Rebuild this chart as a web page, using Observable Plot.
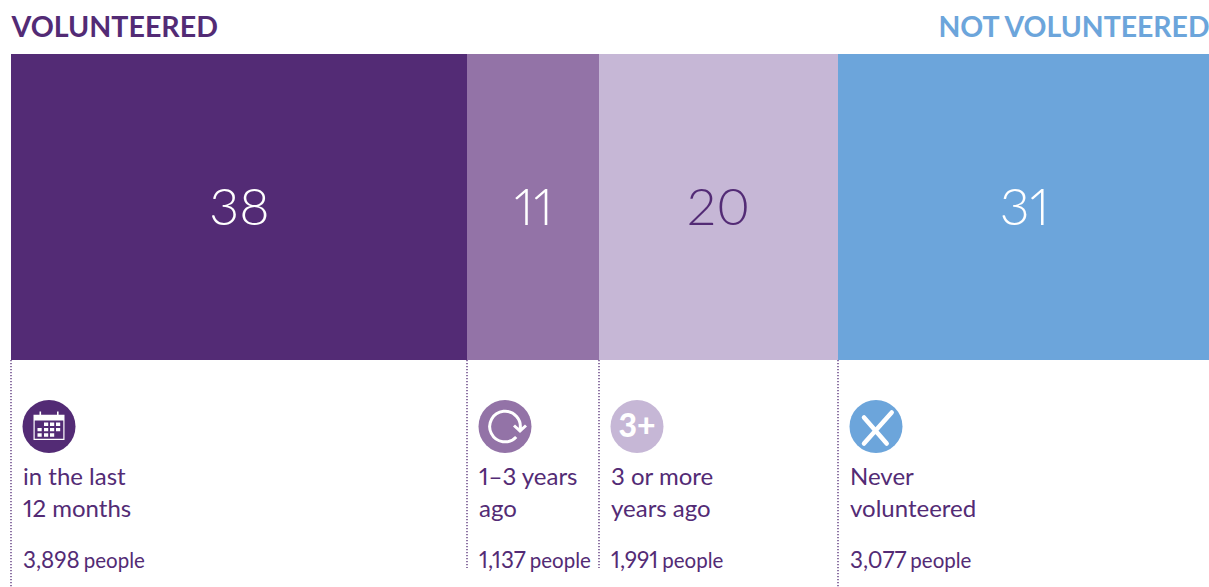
<!DOCTYPE html>
<html>
<head>
<meta charset="utf-8">
<style>html,body{margin:0;padding:0;background:#fff}svg{display:block}</style>
<script src="https://cdn.jsdelivr.net/npm/d3@7"></script>
<script src="https://cdn.jsdelivr.net/npm/@observablehq/plot@0.6"></script>
</head>
<body>
<div id="chart"></div>
<script>
const categories = ["in the last\n12 months", "1–3 years\nago", "3 or more\nyears ago", "Never\nvolunteered"];
const shares = [38, 11, 20, 31];
const counts = ["3,898", "1,137", "1,991", "3,077"];
const headers = ["VOLUNTEERED", "NOT VOLUNTEERED"];
const barColors = ["#532b75", "#9373a7", "#c6b7d6", "#6ca5db"];
const valueColors = ["#ffffff", "#ffffff", "#532b75", "#ffffff"];
const ruleEnds = [587, 568, 568, 587];

const PURPLE = "#532b75", BLUE = "#6ca5db", FONT = "Lato, sans-serif", NUMS = "proportional-nums";
const starts = [0, ...d3.cumsum(shares)].slice(0, 4);
const rows = categories.map((label, i) => ({
  label, share: shares[i], count: counts[i], x1: starts[i], x2: starts[i] + shares[i],
  mid: starts[i] + shares[i] / 2, color: barColors[i], valueColor: valueColors[i], ruleEnd: ruleEnds[i]
}));

const measure = (t, size) => {
  const s = document.createElement("span");
  s.textContent = t;
  s.style.cssText = `font:400 ${size}px Lato;font-variant-numeric:${NUMS};position:absolute;visibility:hidden;white-space:pre`;
  document.body.append(s);
  const w = s.getBoundingClientRect().width;
  s.remove();
  return w;
};

const unit = (size) => Math.sqrt(size / Math.PI) / 26.5;
const rectCW = (c, x0, y0, x1, y1) => { c.moveTo(x0, y0); c.lineTo(x1, y0); c.lineTo(x1, y1); c.lineTo(x0, y1); c.closePath(); };
const rectCCW = (c, x0, y0, x1, y1) => { c.moveTo(x0, y0); c.lineTo(x0, y1); c.lineTo(x1, y1); c.lineTo(x1, y0); c.closePath(); };
const calendarSymbol = { draw(c, size) {
  const k = unit(size);
  rectCW(c, -15.5 * k, -11.7 * k, 15.5 * k, 13.4 * k);
  rectCCW(c, -14.3 * k, -10.5 * k, 14.3 * k, 12.2 * k);
  rectCW(c, -14.3 * k, -10.5 * k, 14.3 * k, -6 * k);
  for (const rx of [-9.5, 8]) rectCW(c, rx * k, -15 * k, (rx + 1.6) * k, -8 * k);
  const cols = [-11.5, -5, 1, 7];
  [[1, 2, 3], [0, 1, 2, 3], [0, 1, 2]].forEach((r, j) => r.forEach((n) => {
    const y = (-4 + j * 5.4) * k;
    rectCW(c, cols[n] * k, y, (cols[n] + 4.2) * k, y + 3.4 * k);
  }));
} };
const refreshSymbol = { draw(c, size) {
  const k = unit(size), R = 15.3 * k;
  c.moveTo(R * Math.cos(0.75), R * Math.sin(0.75));
  c.arc(0, 0, R, 0.75, Math.PI * 2 + 0.25);
  c.moveTo(9 * k, -1 * k); c.lineTo(15 * k, 4.5 * k); c.lineTo(21 * k, -1 * k);
} };
const crossSymbol = { draw(c, size) {
  const k = unit(size);
  c.moveTo(-12 * k, -9 * k); c.lineTo(10.7 * k, 17 * k);
  c.moveTo(15.7 * k, -14 * k); c.lineTo(-12 * k, 17 * k);
} };

const iconDx = 37.5, iconY = 426, labelDx = 11.5;

const chart = Plot.plot({
  width: 1209, height: 587,
  marginTop: 0, marginRight: 0, marginBottom: 0, marginLeft: 0,
  x: {domain: [0, 100], range: [11, 1210], round: true, axis: null},
  y: {domain: [0, 587], range: [0, 587], axis: null},
  style: {background: "#fff", fontFamily: FONT},
  marks: [
    Plot.rect(rows, {x1: "x1", x2: "x2", y1: 54, y2: 360, fill: "color"}),
    Plot.ruleX(rows, {x: "x1", y1: 360, y2: "ruleEnd", stroke: PURPLE, strokeWidth: 1.3, strokeDasharray: "1.3 1.7", dx: -0.5}),
    Plot.text([headers[0]], {x: 0, y: 27, text: d => d, textAnchor: "start", fill: PURPLE, fontSize: 28.6, fontWeight: 700, fontFamily: FONT}),
    Plot.text([headers[1]], {x: 100, y: 27, dx: -1, text: d => d, textAnchor: "end", fill: BLUE, fontSize: 28.4, fontWeight: 700, fontFamily: FONT}),
    Plot.text(rows, {x: "mid", y: 208, text: "share", fill: "valueColor", fontSize: 52, fontWeight: 300, fontVariant: NUMS, fontFamily: FONT}),
    Plot.dot(rows, {x: "x1", y: iconY, dx: iconDx, r: 26.5, fill: "color"}),
    Plot.dot([rows[0]], {x: "x1", y: iconY, dx: iconDx, r: 26.5, symbol: calendarSymbol, fill: "#fff"}),
    Plot.dot([rows[1]], {x: "x1", y: iconY, dx: iconDx, r: 26.5, symbol: refreshSymbol, fill: "none", stroke: "#fff", strokeWidth: 3}),
    Plot.text([rows[2]], {x: "x1", y: iconY, dx: iconDx, text: () => "3+", fill: "#fff", fontSize: 32, fontWeight: 900, fontVariant: NUMS, fontFamily: FONT}),
    Plot.dot([rows[3]], {x: "x1", y: iconY, dx: iconDx, r: 26.5, symbol: crossSymbol, fill: "none", stroke: "#fff", strokeWidth: 4.5, strokeLinecap: "round"}),
    Plot.text(rows, {x: "x1", y: 490.5, dx: labelDx, text: "label", textAnchor: "start", fill: PURPLE, fontSize: 24, lineHeight: 32 / 24, fontVariant: NUMS, fontFamily: FONT}),
    ...rows.flatMap((r) => [
      Plot.text([r], {x: "x1", y: 560, dx: labelDx, text: "count", textAnchor: "start", fill: PURPLE, fontSize: 22.5, fontVariant: NUMS, fontFamily: FONT}),
      Plot.text([r], {x: "x1", y: 561, dx: labelDx + measure(r.count, 22.5) + 4, text: () => "people", textAnchor: "start", fill: PURPLE, fontSize: 20.5, fontFamily: FONT})
    ])
  ]
});
document.getElementById("chart").append(chart);
</script>
</body>
</html>
